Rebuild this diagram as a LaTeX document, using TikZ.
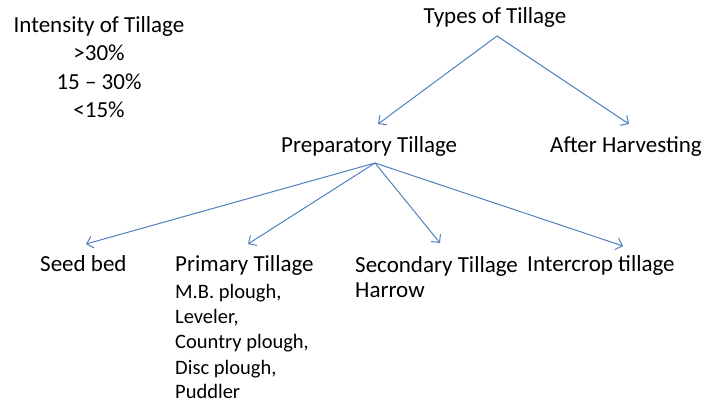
\documentclass[tikz,border=0pt]{standalone}
\usepackage{fontspec}
\setmainfont{Carlito}
\usetikzlibrary{arrows.meta}
\definecolor{arrowblue}{HTML}{4F81BD}
\tikzset{
  big/.style={inner sep=0pt, font=\fontsize{23}{28}\selectfont, text=black},
  small/.style={inner sep=0pt, font=\fontsize{20.5}{25}\selectfont, text=black, anchor=base west},
  arr/.style={draw=arrowblue, line width=1pt, -{Straight Barb[length=6pt,width=12pt,line width=1pt]}}
}
\begin{document}
\begin{tikzpicture}[x=1pt,y=-1pt]
\useasboundingbox (0,0) rectangle (710,405);
% left list
\node[big, anchor=base] (int1) at (99,32) {Intensity of Tillage};
\node[big, anchor=base] (int2) at (99,60) {>30\%};
\node[big, anchor=base] (int3) at (99,89) {15 – 30\%};
\node[big, anchor=base] (int4) at (99,117) {<15\%};
% tree
\node[big, anchor=base] (types) at (495,23) {Types of Tillage};
\node[big, anchor=base west] (prep) at (281,152) {Preparatory Tillage};
\node[big, anchor=base west] (after) at (550,152) {After Harvesting};
\node[big, anchor=base west] (seed) at (40,271) {Seed bed};
\node[big, anchor=base west] (prim) at (175,271) {Primary Tillage};
\node[big, anchor=base west] (sec) at (355,272) {Secondary Tillage};
\node[big, anchor=base west] (inter) at (527,271) {Intercrop tillage};
\node[small] (p1) at (175,298) {M.B. plough,};
\node[small] (p2) at (175,323) {Leveler,};
\node[small] (p3) at (175,348) {Country plough,};
\node[small] (p4) at (175,374) {Disc plough,};
\node[small] (p5) at (175,398) {Puddler};
\node[big, anchor=base west] (h1) at (355,297) {Harrow};
% connector points
\coordinate (tapex) at (497,36);
\coordinate (papex) at (375,163);
\coordinate (tprep) at (378,124);
\coordinate (tafter) at (629,124);
\coordinate (tseed) at (86,244);
\coordinate (tprim) at (248,244);
\coordinate (tsec) at (440,243);
\coordinate (tinter) at (623,246);
\draw[arr] (tapex) -- (tprep);
\draw[arr] (tapex) -- (tafter);
\draw[arr] (papex) -- (tseed);
\draw[arr] (papex) -- (tprim);
\draw[arr] (papex) -- (tsec);
\draw[arr] (papex) -- (tinter);
\end{tikzpicture}
\end{document}
